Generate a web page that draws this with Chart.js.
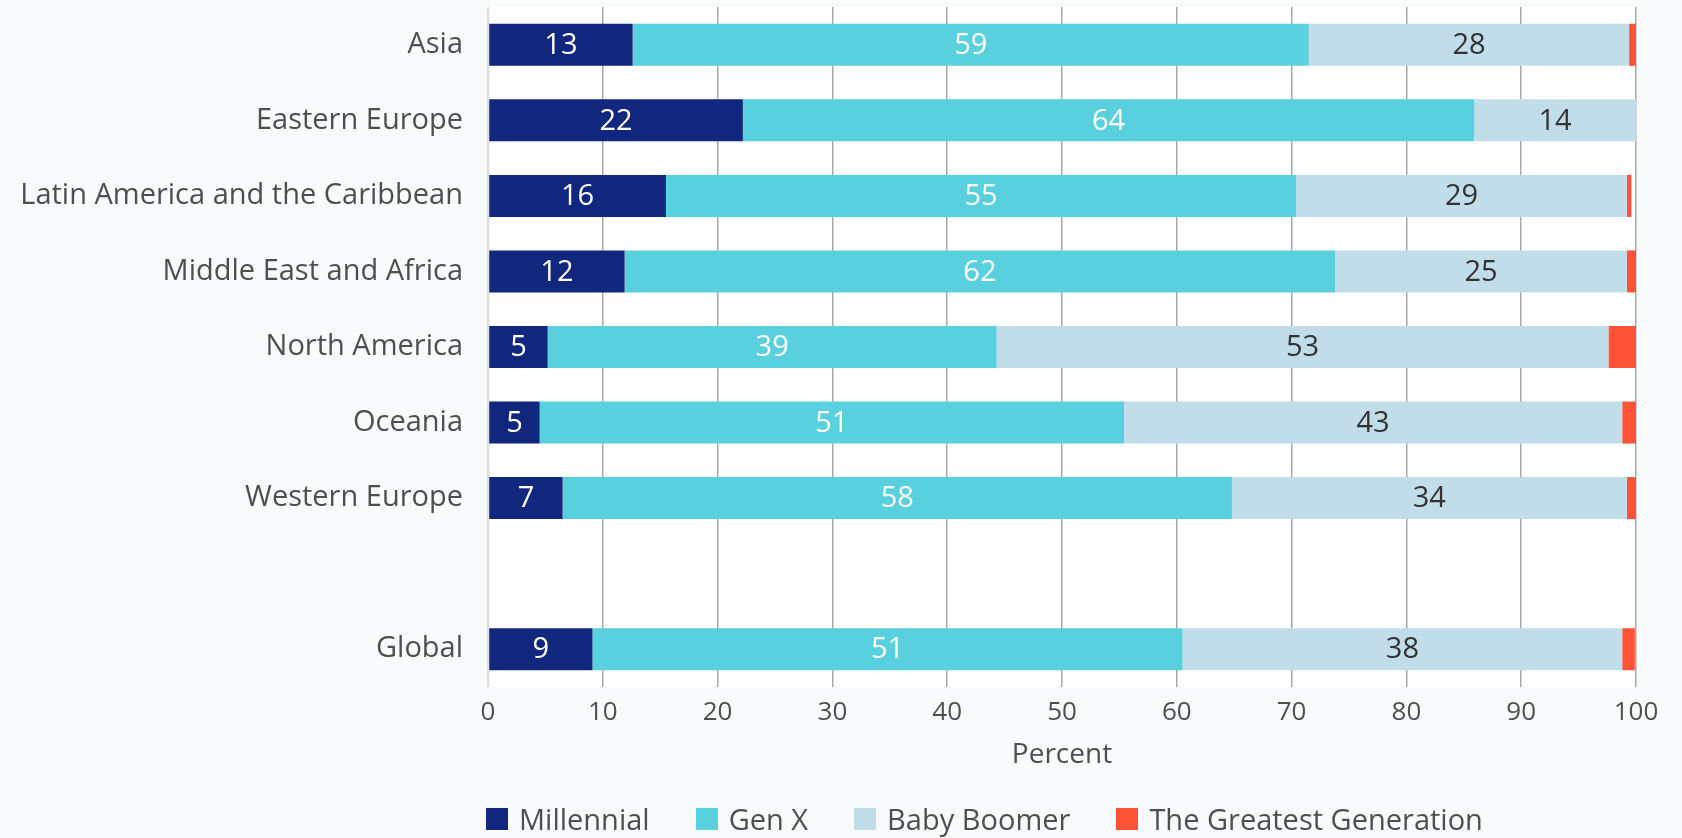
<!DOCTYPE html>
<html>
<head>
<meta charset="utf-8">
<script src="https://cdn.jsdelivr.net/npm/chart.js@4"></script>
<style>
  html, body { margin: 0; padding: 0; background: #f9fafc; }
  #wrap { position: relative; width: 1682px; height: 838px; }
  #legend { position: absolute; left: 486px; top: 799px; display: flex; align-items: center;
    font-family: "Open Sans", sans-serif; font-size: 29px; line-height: 40px; color: #4a5050; }
  #legend .item { display: flex; align-items: center; margin-right: 46px; }
  #legend .box { width: 22px; height: 22px; margin-right: 11px; }
</style>
</head>
<body>
<div id="wrap">
  <canvas id="chart" width="1682" height="838"></canvas>
  <div id="legend"></div>
</div>
<script>
// Regions (the empty entry is the gap before Global)
const regions = ['Asia', 'Eastern Europe', 'Latin America and the Caribbean', 'Middle East and Africa',
  'North America', 'Oceania', 'Western Europe', '', 'Global'];

// Percent of respondents per generation
const millennial = [12.6, 22.2, 15.5, 11.9, 5.2, 4.5, 6.5, null, 9.1];
const genX       = [58.9, 63.7, 54.9, 61.9, 39.1, 50.9, 58.3, null, 51.4];
const babyBoomer = [27.9, 14.1, 28.8, 25.4, 53.3, 43.4, 34.4, null, 38.3];
const greatest   = [0.6, 0, 0.4, 0.8, 2.4, 1.2, 0.8, null, 1.1];

const xTicks = [0, 10, 20, 30, 40, 50, 60, 70, 80, 90, 100];

const COLORS = { millennial: '#11267d', genX: '#59d0de', boomer: '#c0dde9', greatest: '#ff5236' };
const FONT = '"Open Sans", sans-serif';
const TEXT = '#4a5050';

/**
 * White plot area behind the bars
 */
const plotBackground = {
  id: 'plotBackground',
  beforeDraw(chart) {
    const { ctx, chartArea } = chart;
    ctx.save();
    ctx.fillStyle = '#ffffff';
    ctx.fillRect(chartArea.left, chartArea.top, chartArea.right - chartArea.left, chartArea.bottom - chartArea.top);
    ctx.restore();
  }
};

/**
 * Value labels centred in each segment (not for the thin last series)
 */
const labelColors = ['#ffffff', '#ffffff', '#333333'];
const barLabels = {
  id: 'barLabels',
  afterDatasetsDraw(chart) {
    const { ctx } = chart;
    ctx.save();
    ctx.font = '29px ' + FONT;
    ctx.textAlign = 'center';
    ctx.textBaseline = 'middle';
    labelColors.forEach((color, di) => {
      const meta = chart.getDatasetMeta(di);
      meta.data.forEach((bar, i) => {
        const v = chart.data.datasets[di].data[i];
        if (v == null) return;
        ctx.fillStyle = color;
        ctx.fillText(Math.round(v), (bar.x + bar.base) / 2, bar.y + 1);
      });
    });
    ctx.restore();
  }
};

/**
 * HTML legend under the axis
 */
const htmlLegend = {
  id: 'htmlLegend',
  afterUpdate(chart) {
    const el = document.getElementById('legend');
    el.innerHTML = '';
    chart.data.datasets.forEach(ds => {
      const item = document.createElement('div');
      item.className = 'item';
      const box = document.createElement('span');
      box.className = 'box';
      box.style.background = ds.backgroundColor;
      const txt = document.createElement('span');
      txt.textContent = ds.label;
      item.appendChild(box);
      item.appendChild(txt);
      el.appendChild(item);
    });
  }
};

new Chart(document.getElementById('chart').getContext('2d'), {
  type: 'bar',
  data: {
    labels: regions,
    datasets: [
      { label: 'Millennial', data: millennial, backgroundColor: COLORS.millennial },
      { label: 'Gen X', data: genX, backgroundColor: COLORS.genX },
      { label: 'Baby Boomer', data: babyBoomer, backgroundColor: COLORS.boomer },
      { label: 'The Greatest Generation', data: greatest, backgroundColor: COLORS.greatest }
    ]
  },
  options: {
    indexAxis: 'y',
    responsive: false,
    animation: false,
    datasets: { bar: { barPercentage: 0.556, categoryPercentage: 1, borderWidth: 0 } },
    layout: { padding: { top: 7, right: 46, left: 0, bottom: 0 } },
    scales: {
      x: {
        stacked: true,
        min: 0,
        max: 100,
        afterBuildTicks: scale => { scale.ticks = xTicks.map(v => ({ value: v })); },
        afterFit: scale => { scale.height = 151; },
        border: { display: false },
        grid: {
          drawTicks: false,
          color: c => c.tick && c.tick.value === 0 ? '#dfe0e2' : '#a6a9ab',
          lineWidth: c => c.tick && c.tick.value === 0 ? 2.5 : 1.5
        },
        ticks: { padding: 10, color: TEXT, font: { family: FONT, size: 26 } },
        title: {
          display: true, text: 'Percent', color: TEXT,
          font: { family: FONT, size: 28 }, padding: { top: 0, bottom: 66 }
        }
      },
      y: {
        stacked: true,
        afterFit: scale => {
          scale.width = 488;
          scale.paddingTop = 0;
          scale.paddingBottom = 0;
        },
        border: { display: false },
        grid: { display: false },
        ticks: { padding: 17, color: TEXT, font: { family: FONT, size: 29 } }
      }
    },
    plugins: {
      legend: { display: false },
      tooltip: { enabled: false }
    }
  },
  plugins: [plotBackground, barLabels, htmlLegend]
});
</script>
</body>
</html>
